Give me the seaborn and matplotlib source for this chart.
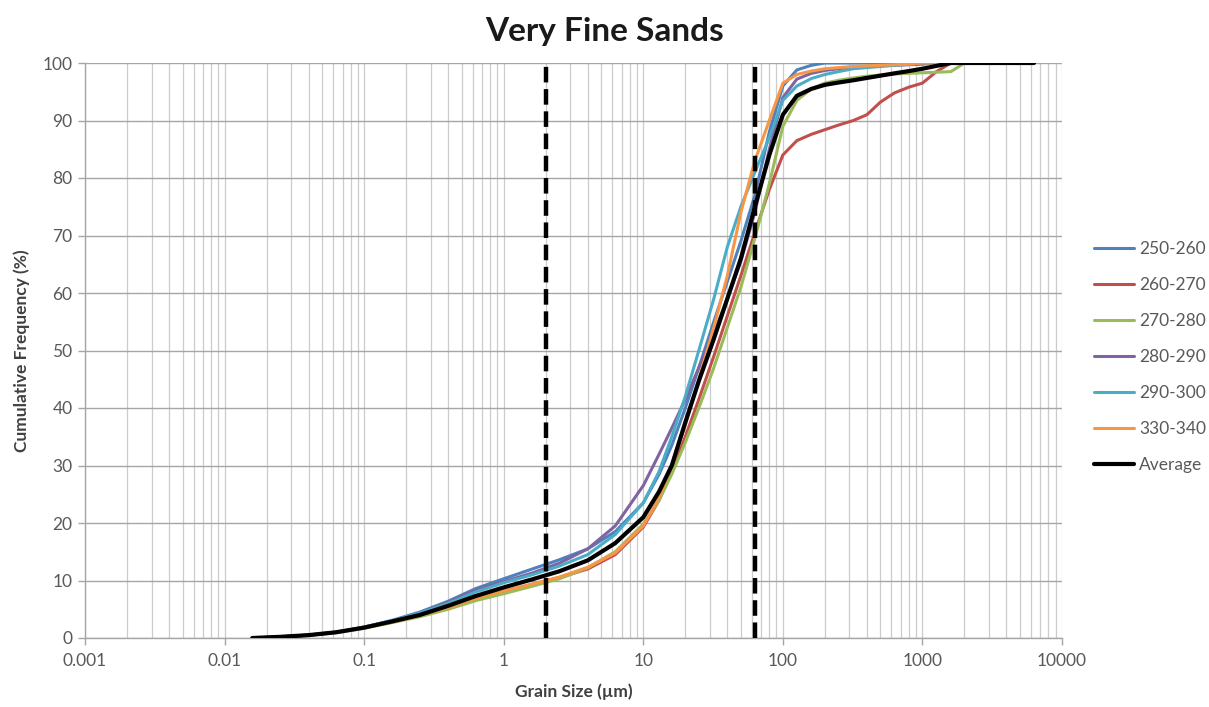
import numpy as np
import pandas as pd
import matplotlib
matplotlib.use("Agg")
import matplotlib.pyplot as plt
import seaborn as sns
from matplotlib.ticker import FixedLocator, FixedFormatter, LogLocator, NullFormatter

# ---- data ----
grain_size = [0.0158, 0.025, 0.04, 0.063, 0.1, 0.16, 0.25, 0.4, 0.63, 1, 1.6, 2.5, 4, 6.3,
              10, 13, 16, 20, 25, 32, 40, 50, 63, 80, 100, 126, 160, 200, 250, 320, 400,
              500, 630, 800, 1000, 1260, 1600, 2000, 3000, 6300]

s250_260 = [0, 0.2, 0.5, 1.0, 1.9, 3.1, 4.5, 6.4, 8.6, 10.3, 12.0, 13.6, 15.5, 18.5,
            23.5, 28.5, 33.5, 40, 47, 55, 62, 69, 77, 88, 96, 98.8, 99.6, 100, 100, 100, 100,
            100, 100, 100, 100, 100, 100, 100, 100, 100]
s260_270 = [0, 0.2, 0.5, 1.0, 1.8, 2.8, 3.9, 5.3, 6.8, 8.1, 9.3, 10.5, 12.0, 14.5,
            19.3, 24, 29, 35, 41.5, 49, 56, 63, 70.5, 78, 84, 86.5, 87.6, 88.4, 89.2, 90, 91,
            93.2, 94.8, 95.8, 96.5, 98.5, 100, 100, 100, 100]
s270_280 = [0, 0.2, 0.45, 0.9, 1.7, 2.7, 3.7, 5.0, 6.5, 7.7, 9.0, 10.3, 12.2, 15.0,
            19.8, 24, 28.5, 34, 40, 47, 54, 61, 69.5, 79, 89, 93.5, 95.5, 96.5, 97, 97.4, 97.7,
            97.9, 98.1, 98.2, 98.3, 98.4, 98.5, 100, 100, 100]
s280_290 = [0, 0.2, 0.5, 1.0, 1.9, 3.0, 4.3, 6.2, 8.3, 9.8, 11.3, 13.0, 15.5, 19.5,
            26.5, 32, 36.5, 41.5, 47, 53, 59, 65.5, 74, 85, 94, 97.2, 98.2, 98.7, 99, 99.2, 99.4,
            99.5, 99.6, 99.7, 99.8, 100, 100, 100, 100, 100]
s290_300 = [0, 0.2, 0.5, 1.0, 1.9, 3.0, 4.3, 6.0, 8.0, 9.6, 11.0, 12.5, 14.5, 18.0,
            23.5, 29, 35, 42, 50, 59, 68, 75, 81, 87, 93.5, 96, 97.3, 98, 98.5, 99, 99.2,
            99.4, 99.6, 99.8, 100, 100, 100, 100, 100, 100]
s330_340 = [0, 0.2, 0.5, 1.0, 1.8, 2.8, 3.9, 5.3, 6.9, 8.2, 9.4, 10.6, 12.3, 14.8,
            19.5, 24.5, 30, 37, 45, 54, 63, 74, 83, 90, 96.5, 98, 98.6, 99, 99.2, 99.4, 99.5,
            99.6, 99.7, 99.8, 100, 100, 100, 100, 100, 100]
average = [0, 0.2, 0.5, 1.0, 1.8, 2.9, 4.0, 5.6, 7.3, 8.8, 10.2, 11.6, 13.5, 16.5,
           21, 25.5, 30, 37.5, 44.7, 52, 59, 66, 75, 84, 91, 94.3, 95.5, 96.2, 96.6, 97, 97.4,
           97.8, 98.2, 98.6, 99.0, 99.5, 100, 100, 100, 100]

series_names = ["250-260", "260-270", "270-280", "280-290", "290-300", "330-340", "Average"]
series_values = [s250_260, s260_270, s270_280, s280_290, s290_300, s330_340, average]
series_colors = ["#4F81BD", "#C0504D", "#9BBB59", "#8064A2", "#4BACC6", "#F79646", "#000000"]

dashed_sizes = [2, 63]
x_ticks = [0.001, 0.01, 0.1, 1, 10, 100, 1000, 10000]
x_tick_labels = ["0.001", "0.01", "0.1", "1", "10", "100", "1000", "10000"]
y_ticks = list(range(0, 101, 10))

# ---- plot ----
sns.set_style("white")
plt.rcParams["font.family"] = ["Lato", "DejaVu Sans"]

fig = plt.figure(figsize=(12.09, 7.07), dpi=100)
ax = fig.add_axes([85 / 1209, 1 - 638 / 707, (1062 - 85) / 1209, (638 - 63) / 707])

rows = []
for name, vals in zip(series_names, series_values):
    for x, y in zip(grain_size, vals):
        rows.append({"size": x, "freq": y, "series": name})
df = pd.DataFrame(rows)

for name, color in zip(series_names, series_colors):
    sub = df[df["series"] == name]
    sns.lineplot(data=sub, x="size", y="freq", ax=ax, color=color,
                 linewidth=3.0 if name == "Average" else 2.2, label=name,
                 sort=False, zorder=4 if name == "Average" else 3)

for d in dashed_sizes:
    ax.axvline(d, color="black", linestyle=(0, (3.5, 1.5)), linewidth=3.2, zorder=5)

ax.set_xscale("log")
ax.set_xlim(0.001, 10000)
ax.set_ylim(0, 100)
ax.xaxis.set_major_locator(FixedLocator(x_ticks))
ax.xaxis.set_major_formatter(FixedFormatter(x_tick_labels))
ax.xaxis.set_minor_locator(LogLocator(base=10, subs=np.arange(2, 10), numticks=100))
ax.xaxis.set_minor_formatter(NullFormatter())
ax.set_yticks(y_ticks)

ax.grid(True, which="major", axis="y", color="#A6A6A6", linewidth=1.0, zorder=0)
ax.grid(True, which="both", axis="x", color="#CCCCCC", linewidth=0.9, zorder=0)
ax.set_axisbelow(True)

for sp in ["top", "right"]:
    ax.spines[sp].set_visible(False)
for sp in ["left", "bottom"]:
    ax.spines[sp].set_color("#A6A6A6")
    ax.spines[sp].set_linewidth(1.0)

ax.tick_params(axis="both", which="major", labelsize=12.5, labelcolor="#595959",
               color="#A6A6A6", length=5, width=1, direction="out")
ax.tick_params(axis="x", which="minor", length=0)
ax.tick_params(axis="y", left=True, pad=4)
ax.tick_params(axis="x", bottom=True, pad=6)

ax.set_xlabel("Grain Size (µm)", fontsize=12.5, fontweight="bold", color="#404040", labelpad=10)
ax.set_ylabel("Cumulative Frequency (%)", fontsize=12.5, fontweight="bold", color="#404040", labelpad=9)

fig.text(0.5, 0.955, "Very Fine Sands", ha="center", va="center",
         fontsize=24, fontweight="bold", color="#1a1a1a")

leg = ax.legend(loc="upper left", bbox_to_anchor=(1087 / 1209, 1 - 234 / 707),
                bbox_transform=fig.transFigure, frameon=False, fontsize=12.5,
                handlelength=2.3, labelspacing=1.15, handletextpad=0.3, borderaxespad=0)
for t in leg.get_texts():
    t.set_color("#595959")

fig.savefig("out.png", dpi=100)
